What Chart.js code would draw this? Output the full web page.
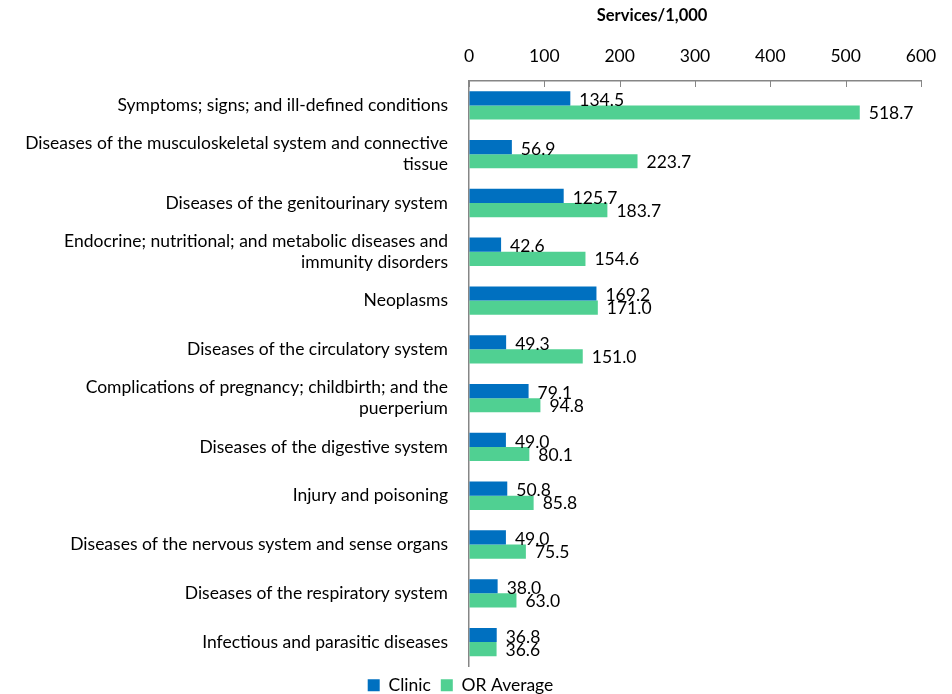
<!DOCTYPE html>
<html>
<head>
<meta charset="utf-8">
<script src="https://cdn.jsdelivr.net/npm/chart.js@4"></script>
<style>
  html, body { margin: 0; padding: 0; background: #fff; overflow: hidden; }
  #wrap { width: 952px; height: 704px; }
</style>
</head>
<body>
<div id="wrap"><canvas id="barchart"></canvas></div>
<script>
const categories = [
  "Symptoms; signs; and ill-defined conditions",
  ["Diseases of the musculoskeletal system and connective", "tissue"],
  "Diseases of the genitourinary system",
  ["Endocrine; nutritional; and metabolic diseases and", "immunity disorders"],
  "Neoplasms",
  "Diseases of the circulatory system",
  ["Complications of pregnancy; childbirth; and the", "puerperium"],
  "Diseases of the digestive system",
  "Injury and poisoning",
  "Diseases of the nervous system and sense organs",
  "Diseases of the respiratory system",
  "Infectious and parasitic diseases"
];
const clinic = [134.5, 56.9, 125.7, 42.6, 169.2, 49.3, 79.1, 49.0, 50.8, 49.0, 38.0, 36.8];
const orAverage = [518.7, 223.7, 183.7, 154.6, 171.0, 151.0, 94.8, 80.1, 85.8, 75.5, 63.0, 36.6];
const xTicks = [0, 100, 200, 300, 400, 500, 600];

const FONT = "Lato, 'Liberation Sans', sans-serif";
const FS = 17.5;

// value labels next to each bar + inward tick marks + axis title
const extras = {
  id: 'extras',
  afterDatasetsDraw(chart) {
    const ctx = chart.ctx;
    ctx.save();
    ctx.font = FS + "px " + FONT;
    ctx.fillStyle = "#000";
    ctx.textBaseline = "middle";
    ctx.textAlign = "left";
    chart.data.datasets.forEach((ds, di) => {
      chart.getDatasetMeta(di).data.forEach((bar, i) => {
        const dy = di === 0 ? 2 : 1;
        ctx.fillText(ds.data[i].toFixed(1), bar.x + 9, bar.y + dy);
      });
    });
    // tick marks pointing into the plot
    const xs = chart.scales.x;
    const top = chart.chartArea.top;
    ctx.strokeStyle = "#868686";
    ctx.lineWidth = 1;
    xTicks.forEach(v => {
      const px = Math.round(xs.getPixelForValue(v)) + 0.5;
      ctx.beginPath();
      ctx.moveTo(px, top);
      ctx.lineTo(px, top + 6);
      ctx.stroke();
    });
    // axis title
    ctx.font = "bold 16.5px " + FONT;
    ctx.textAlign = "center";
    ctx.fillText("Services/1,000", chart.chartArea.left + chart.chartArea.width * 0.405, 16);
    ctx.restore();
  }
};

new Chart(document.getElementById("barchart"), {
  type: 'bar',
  data: {
    labels: categories,
    datasets: [{
      label: "Clinic",
      data: clinic,
      backgroundColor: "#0070C0",
      categoryPercentage: 0.58,
      barPercentage: 1.0
    }, {
      label: "OR Average",
      data: orAverage,
      backgroundColor: "#50D092",
      categoryPercentage: 0.58,
      barPercentage: 1.0
    }]
  },
  options: {
    indexAxis: 'y',
    responsive: true,
    maintainAspectRatio: false,
    animation: false,
    layout: { padding: { top: 32, right: 31, bottom: 0, left: 0 } },
    scales: {
      x: {
        position: 'top',
        min: 0,
        max: 600,
        afterBuildTicks: (s) => { s.ticks = xTicks.map(v => ({ value: v })); },
        grid: { drawOnChartArea: false, drawTicks: false },
        border: { color: "#868686", width: 1.5 },
        ticks: { padding: 14, color: "#000", font: { family: FONT, size: FS } }
      },
      y: {
        grid: { display: false, drawTicks: false },
        border: { color: "#868686", width: 1.5 },
        ticks: { padding: 21, color: "#000", font: { family: FONT, size: FS }, autoSkip: false },
        afterFit: (s) => { s.width = 469; }
      }
    },
    plugins: {
      legend: {
        position: 'bottom',
        labels: {
          color: "#000",
          boxWidth: 12,
          boxHeight: 12,
          padding: 10,
          font: { family: FONT, size: FS }
        }
      },
      tooltip: { enabled: false }
    }
  },
  plugins: [extras]
});
</script>
</body>
</html>
